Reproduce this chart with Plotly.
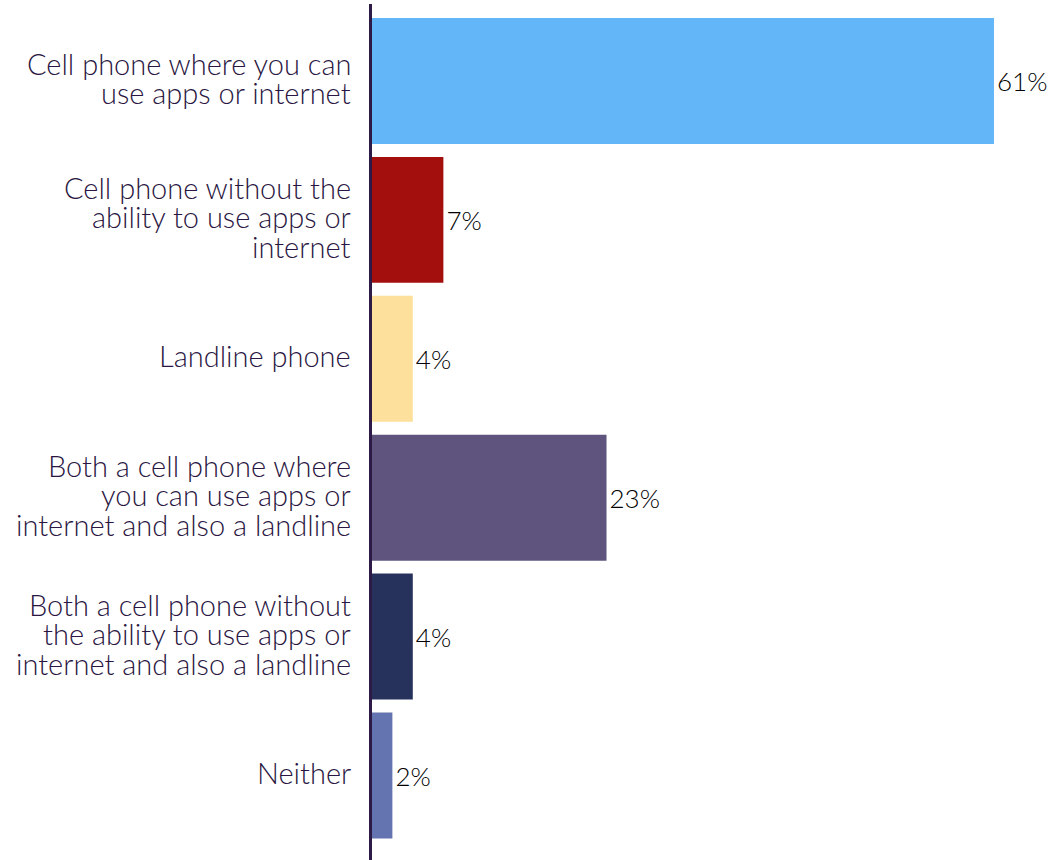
import plotly.graph_objects as go

categories = [
    "Cell phone where you can\nuse apps or internet",
    "Cell phone without the\nability to use apps or\ninternet",
    "Landline phone",
    "Both a cell phone where\nyou can use apps or\ninternet and also a landline",
    "Both a cell phone without\nthe ability to use apps or\ninternet and also a landline",
    "Neither",
]
values = [61, 7, 4, 23, 4, 2]
labels = ["61%", "7%", "4%", "23%", "4%", "2%"]
colors = ["#63b7f8", "#a30f0d", "#fde09b", "#5f547e", "#27325c", "#6474b0"]

LABEL_FONT = dict(family="Lato", size=29, color="#2a1642", weight=300)
LINE_PX = 29.5

fig = go.Figure(
    go.Bar(
        x=values,
        y=categories,
        orientation="h",
        marker=dict(color=colors, line=dict(width=0)),
        text=labels,
        textposition="outside",
        cliponaxis=False,
        textfont=dict(family="Lato", size=26, color="#000000", weight=300),
        hoverinfo="skip",
    )
)

# category labels drawn line by line so the line spacing matches the reference
for cat in categories:
    lines = cat.split("\n")
    n = len(lines)
    for k, line in enumerate(lines):
        fig.add_annotation(
            x=0, xref="paper", xanchor="right", xshift=-21,
            y=cat, yref="y", yanchor="middle",
            yshift=((n - 1) / 2 - k) * LINE_PX + 3,
            text=line, showarrow=False, font=LABEL_FONT,
            borderpad=0, borderwidth=0,
        )

fig.update_layout(
    width=1062,
    height=860,
    margin=dict(l=372, r=0, t=4, b=0),
    paper_bgcolor="white",
    plot_bgcolor="white",
    bargap=0.093,
    showlegend=False,
    font=dict(family="Lato", color="#2e1a47"),
)
fig.update_xaxes(
    range=[0, 67.67],
    showgrid=False,
    zeroline=False,
    showticklabels=False,
    showline=False,
)
fig.update_yaxes(
    type="category",
    range=[5.608, -0.554],
    showgrid=False,
    zeroline=False,
    showline=True,
    linewidth=3,
    linecolor="#2e1a47",
    ticks="",
    showticklabels=False,
)

fig.write_html("out.html")
